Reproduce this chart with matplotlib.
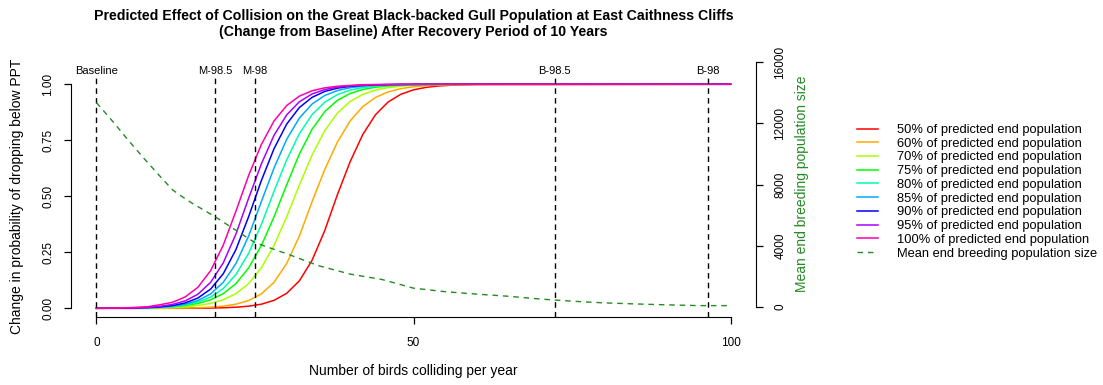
import matplotlib
matplotlib.use("Agg")
import matplotlib.pyplot as plt

plt.rcParams["font.family"] = ["Liberation Sans", "DejaVu Sans"]

# collisions per year (x grid shared by the probability curves)
birds = [0, 2, 4, 6, 8, 10, 12, 14, 16, 18, 20, 22, 24, 26, 28, 30, 32, 34, 36, 38,
         40, 42, 44, 46, 48, 50, 52, 54, 56, 58, 60, 100]

p50 = [0, 0, 0, 0, 0, 0.0001, 0.0002, 0.0003, 0.0007, 0.0013, 0.0026, 0.005, 0.0096, 0.0185,
       0.0356, 0.067, 0.1227, 0.2142, 0.3468, 0.5075, 0.6539, 0.7759, 0.8639, 0.9209, 0.9553,
       0.9751, 0.9863, 0.9925, 0.9959, 0.9977, 0.9988, 1.0]
p60 = [0, 0, 0.0001, 0.0001, 0.0002, 0.0004, 0.0008, 0.0014, 0.0027, 0.0052, 0.0099, 0.0185,
       0.0349, 0.0642, 0.1161, 0.1999, 0.3226, 0.4758, 0.6192, 0.7421, 0.836, 0.9003, 0.9411,
       0.9659, 0.9804, 0.9889, 0.9937, 0.9964, 0.998, 0.9989, 0.9994, 1.0]
p70 = [0.0001, 0.0002, 0.0004, 0.0007, 0.0013, 0.0023, 0.004, 0.0071, 0.0125, 0.0219, 0.0381,
       0.0656, 0.1105, 0.1803, 0.2803, 0.4083, 0.5498, 0.6838, 0.793, 0.8715, 0.9231, 0.9551,
       0.9742, 0.9852, 0.9916, 0.9952, 0.9973, 0.9985, 0.9991, 0.9995, 0.9997, 1.0]
p75 = [0.0002, 0.0004, 0.0007, 0.0013, 0.0023, 0.004, 0.0071, 0.0125, 0.0219, 0.038, 0.0656,
       0.1105, 0.1803, 0.2803, 0.4083, 0.5513, 0.6887, 0.7993, 0.8777, 0.9282, 0.9588, 0.9767,
       0.9869, 0.9927, 0.9959, 0.9977, 0.9987, 0.9993, 0.9996, 0.9998, 0.9999, 1.0]
p80 = [0.0002, 0.0004, 0.0008, 0.0014, 0.0026, 0.0047, 0.0085, 0.0155, 0.0281, 0.0502, 0.0884,
       0.151, 0.2458, 0.374, 0.522, 0.6629, 0.7798, 0.8644, 0.9199, 0.9538, 0.9739, 0.9853,
       0.9918, 0.9954, 0.9975, 0.9986, 0.9992, 0.9996, 0.9998, 0.9999, 1.0, 1.0]
p85 = [0.0002, 0.0004, 0.0008, 0.0014, 0.0027, 0.0052, 0.0099, 0.0185, 0.0349, 0.0642, 0.1161,
       0.1999, 0.3226, 0.4758, 0.626, 0.7542, 0.849, 0.9116, 0.9498, 0.9719, 0.9845, 0.9915,
       0.9953, 0.9975, 0.9986, 0.9992, 0.9996, 0.9998, 0.9999, 1.0, 1.0, 1.0]
p90 = [0.0002, 0.0005, 0.0009, 0.0017, 0.0033, 0.0065, 0.0125, 0.0241, 0.0461, 0.0857, 0.1545,
       0.2625, 0.4093, 0.5698, 0.7122, 0.8222, 0.8962, 0.9416, 0.9679, 0.9826, 0.9906, 0.9949,
       0.9973, 0.9985, 0.9992, 0.9996, 0.9998, 0.9999, 1.0, 1.0, 1.0, 1.0]
p95 = [0.0003, 0.0006, 0.0012, 0.0024, 0.0046, 0.009, 0.0174, 0.0333, 0.063, 0.116, 0.2031,
       0.3318, 0.4917, 0.6442, 0.772, 0.8634, 0.9219, 0.9567, 0.9763, 0.9872, 0.9931, 0.9963,
       0.998, 0.9989, 0.9994, 0.9997, 0.9998, 0.9999, 1.0, 1.0, 1.0, 1.0]
p100 = [0.0005, 0.001, 0.002, 0.004, 0.007, 0.016, 0.027, 0.051, 0.094, 0.168, 0.282, 0.434,
        0.593, 0.731, 0.836, 0.905, 0.947, 0.971, 0.984, 0.991, 0.995, 0.998, 0.999, 0.999,
        1.0, 1.0, 1.0, 1.0, 1.0, 1.0, 1.0, 1.0]

curves = [p50, p60, p70, p75, p80, p85, p90, p95, p100]
curve_labels = ["50% of predicted end population", "60% of predicted end population",
                "70% of predicted end population", "75% of predicted end population",
                "80% of predicted end population", "85% of predicted end population",
                "90% of predicted end population", "95% of predicted end population",
                "100% of predicted end population"]
curve_colors = ["#FF0000", "#FFAA00", "#AAFF00", "#00FF00", "#00FFAA",
                "#00AAFF", "#0000FF", "#AA00FF", "#FF00AA"]

# mean end breeding population size
pop_x = [0, 2.5, 5, 7.5, 10, 12, 13, 15, 18.7, 25, 30, 35, 40, 45, 50, 55, 60, 65, 70, 75,
         80, 85, 90, 95, 100]
pop_y = [13350, 12150, 10900, 9700, 8550, 7650, 7350, 6800, 5900, 4200, 3480, 2700, 2150,
         1800, 1230, 1000, 840, 700, 520, 380, 270, 200, 140, 90, 90]

# reference lines
ref_x = [0, 18.7, 25.0, 72.3, 96.4]
ref_labels = ["Baseline", "M-98.5", "M-98", "B-98.5", "B-98"]

W, H = 1103, 385
fig = plt.figure(figsize=(W / 100, H / 100), dpi=100)

left_px, right_px = 71.1, 755.9
top_px, bot_px = 75.3, 317.3
ax = fig.add_axes([left_px / W, 1 - bot_px / H, (right_px - left_px) / W, (bot_px - top_px) / H])
ax.patch.set_alpha(0)
ax.set_xlim(-4, 104)
ax.set_ylim(-0.04, 1.04)

for vals, col, lab in zip(curves, curve_colors, curve_labels):
    ax.plot(birds, vals, color=col, lw=1.1, label=lab)

for xv, lab in zip(ref_x, ref_labels):
    ax.axvline(xv, color="black", lw=1.0, ls=(0, (4, 3)))
    ax.text(xv, 1.059, lab, ha="center", va="center", fontsize=8, clip_on=False)

for s in ["top", "right"]:
    ax.spines[s].set_visible(False)
ax.spines["left"].set_bounds(0, 1)
ax.spines["bottom"].set_bounds(0, 100)
ax.set_xticks([0, 50, 100])
ax.set_yticks([0, 0.25, 0.5, 0.75, 1.0])
ax.set_yticklabels(["0.00", "0.25", "0.50", "0.75", "1.00"])
ax.tick_params(direction="out", length=5.2, width=0.9, labelsize=8.5, pad=7)
ax.tick_params(axis="x", pad=9)
for t in ax.get_yticklabels():
    t.set_rotation(90)
    t.set_va("center")

# right axis for population size
r0_px, r16_px = 307.0, 62.0
ax2 = fig.add_axes([left_px / W, 1 - r0_px / H, (right_px - left_px) / W, (r0_px - r16_px) / H])
ax2.patch.set_alpha(0)
ax2.set_xlim(-4, 104)
ax2.set_ylim(0, 16000)
pop_line, = ax2.plot(pop_x, pop_y, color="#228B22", lw=1.0, ls=(0, (4, 3.5)),
                     label="Mean end breeding population size")
for s in ["top", "left", "bottom"]:
    ax2.spines[s].set_visible(False)
ax2.set_xticks([])
ax2.yaxis.tick_right()
ax2.set_yticks([0, 4000, 8000, 12000, 16000])
ax2.tick_params(direction="out", length=5.2, width=0.9, labelsize=8.5, pad=8)
for t in ax2.get_yticklabels():
    t.set_rotation(90)
    t.set_va("center")

# axis titles
fig.text(16.7 / W, 1 - 196 / H, "Change in probability of dropping below PPT", rotation=90,
         ha="center", va="center", fontsize=10)
fig.text(801.7 / W, 1 - 184 / H, "Mean end breeding population size", rotation=90,
         ha="center", va="center", fontsize=10, color="#228B22")
fig.text(413.5 / W, 1 - 371 / H, "Number of birds colliding per year",
         ha="center", va="center", fontsize=10)
fig.text(413.5 / W, 1 - 24 / H,
         "Predicted Effect of Collision on the Great Black-backed Gull Population at East Caithness Cliffs\n"
         "(Change from Baseline) After Recovery Period of 10 Years",
         ha="center", va="center", fontsize=10.2, fontweight="bold", linespacing=1.15)

handles, labels = ax.get_legend_handles_labels()
handles.append(pop_line)
labels.append(pop_line.get_label())
fig.legend(handles, labels, loc="upper left", bbox_to_anchor=(856.7 / W, 1 - 124.0 / H),
           frameon=False, fontsize=9.3, labelspacing=0.13, handlelength=1.63, handletextpad=1.5,
           borderpad=0, borderaxespad=0)

fig.savefig("out.png", dpi=100)
